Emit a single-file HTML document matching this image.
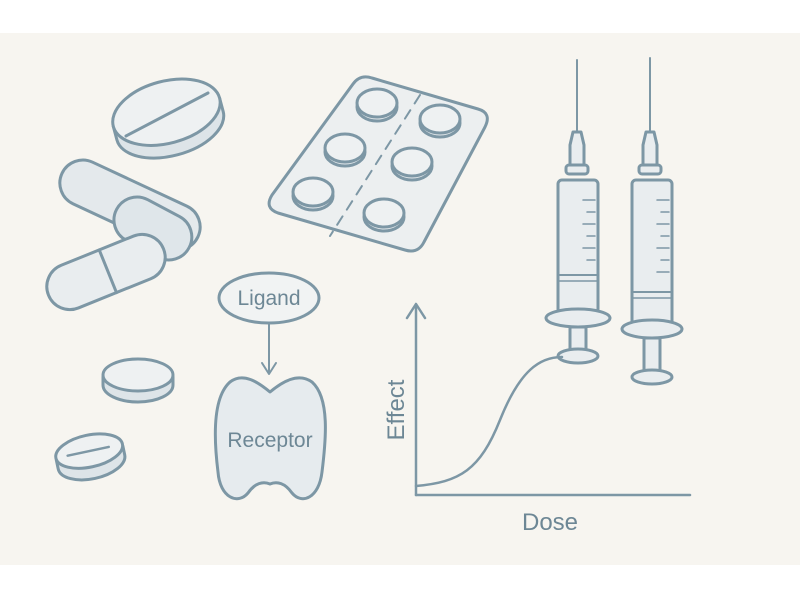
<!DOCTYPE html>
<html><head><meta charset="utf-8"><style>
html,body{margin:0;padding:0;background:#fff;}
svg{display:block}
</style></head><body>
<svg width="800" height="600" viewBox="0 0 800 600" xmlns="http://www.w3.org/2000/svg" font-family="Liberation Sans, sans-serif">
<rect x="0" y="0" width="800" height="600" fill="#ffffff"/>
<rect x="0" y="33" width="800" height="532" fill="#f7f5f0"/>
<g stroke="#7d97a5" stroke-width="3" fill="#e9edef" stroke-linecap="round" stroke-linejoin="round">
<!-- big tablet -->
<g transform="rotate(-15 168 118)">
<path d="M113 112 L113 126 A55 30 0 0 0 223 126 L223 112" fill="#dde4e8"/>
<ellipse cx="168" cy="112" rx="55" ry="31" fill="#eef1f2"/>
</g>
<line x1="126" y1="136" x2="208" y2="93"/>
<!-- capsules -->
<g transform="rotate(25 130 205)"><rect x="55" y="182" width="150" height="46" rx="23" fill="#e4e9ec"/></g>
<g transform="rotate(28 152 228)"><rect x="112" y="205" width="82" height="46" rx="23" fill="#dfe6ea"/></g>
<g transform="rotate(-22 106 272)"><rect x="44" y="249" width="124" height="46" rx="23"/><line x1="108" y1="249" x2="108" y2="295"/></g>
<!-- blister -->
<path d="M372 78 Q360 74 353 84 L272 195 Q264 208 278 213 L405 250 Q418 254 424 242 L485 127 Q492 113 478 109 Z" fill="#eceff0"/>
<line x1="420" y1="95" x2="330" y2="236" stroke-dasharray="10 8" stroke-width="2"/>
<g fill="#e2e8eb">
<ellipse cx="377" cy="107" rx="20" ry="14"/><ellipse cx="440" cy="123" rx="20" ry="14"/>
<ellipse cx="345" cy="152" rx="20" ry="14"/><ellipse cx="412" cy="166" rx="20" ry="14"/>
<ellipse cx="313" cy="196" rx="20" ry="14"/><ellipse cx="384" cy="217" rx="20" ry="14"/>
</g>
<g fill="#eef1f2">
<ellipse cx="377" cy="103" rx="20" ry="14"/><ellipse cx="440" cy="119" rx="20" ry="14"/>
<ellipse cx="345" cy="148" rx="20" ry="14"/><ellipse cx="412" cy="162" rx="20" ry="14"/>
<ellipse cx="313" cy="192" rx="20" ry="14"/><ellipse cx="384" cy="213" rx="20" ry="14"/>
</g>
<!-- small tablets -->
<path d="M103 377 L103 385 A35 17 0 0 0 173 385 L173 377" fill="#dde4e8"/>
<ellipse cx="138" cy="375" rx="35" ry="16" fill="#eef1f2"/>
<g transform="rotate(-12 90 455)">
<path d="M56 453 L56 462 A34 17 0 0 0 124 462 L124 453" fill="#dde4e8"/>
<ellipse cx="90" cy="451" rx="34" ry="16" fill="#eef1f2"/>
<line x1="68" y1="451" x2="110" y2="451" stroke-width="2.5"/>
</g>
<!-- syringes -->
<g>
<line x1="577" y1="60" x2="577" y2="132" stroke-width="2"/>
<path d="M573 132 L581 132 L584 145 L584 165 L570 165 L570 145 Z"/>
<rect x="566" y="165" width="22" height="9" rx="3"/>
<rect x="558" y="180" width="40" height="133" rx="4"/>
<line x1="558" y1="275" x2="598" y2="275" stroke-width="2"/>
<line x1="558" y1="281" x2="598" y2="281" stroke-width="1.5"/>
<ellipse cx="578" cy="318" rx="32" ry="9"/>
<rect x="570" y="327" width="16" height="26"/>
<ellipse cx="578" cy="356" rx="20" ry="7"/>
<g stroke-width="1.5"><line x1="583" y1="200" x2="595" y2="200"/><line x1="587" y1="212" x2="595" y2="212"/><line x1="583" y1="224" x2="595" y2="224"/><line x1="587" y1="236" x2="595" y2="236"/><line x1="583" y1="248" x2="595" y2="248"/><line x1="587" y1="260" x2="595" y2="260"/></g>
</g>
<g>
<line x1="650" y1="58" x2="650" y2="132" stroke-width="2"/>
<path d="M646 132 L654 132 L657 145 L657 165 L643 165 L643 145 Z"/>
<rect x="639" y="165" width="22" height="9" rx="3"/>
<rect x="632" y="180" width="40" height="145" rx="4"/>
<line x1="632" y1="292" x2="672" y2="292" stroke-width="2"/>
<line x1="632" y1="298" x2="672" y2="298" stroke-width="1.5"/>
<ellipse cx="652" cy="329" rx="30" ry="9"/>
<rect x="644" y="338" width="16" height="36"/>
<ellipse cx="652" cy="377" rx="20" ry="7"/>
<g stroke-width="1.5"><line x1="657" y1="200" x2="669" y2="200"/><line x1="661" y1="212" x2="669" y2="212"/><line x1="657" y1="224" x2="669" y2="224"/><line x1="661" y1="236" x2="669" y2="236"/><line x1="657" y1="248" x2="669" y2="248"/><line x1="661" y1="260" x2="669" y2="260"/><line x1="657" y1="272" x2="669" y2="272"/></g>
</g>
<!-- ligand / receptor -->
<ellipse cx="269" cy="298" rx="50" ry="25" fill="#f1f3f3"/>
<line x1="269" y1="323" x2="269" y2="373" stroke-width="2"/>
<path d="M262 363 L269 374 L276 363" fill="none" stroke-width="2"/>
<path d="M230 382 C243 372 258 382 270 392 C282 382 298 372 312 382 C330 398 326 440 322 472 C319 498 302 505 292 493 C285 483 277 481 270 484 C263 481 255 483 248 493 C238 505 220 498 218 472 C214 440 212 398 230 382 Z" fill="#e6ebee"/>
<!-- graph -->
<g fill="none" stroke-width="2.5">
<line x1="416" y1="495" x2="416" y2="305"/>
<path d="M407 318 L416 304 L425 318"/>
<line x1="416" y1="495" x2="690" y2="495"/>
<path d="M416 486 C460 482 480 470 500 420 C520 370 540 357 562 357"/>
</g>
</g>
<g fill="#6d8795" font-size="21">
<text x="269" y="305" text-anchor="middle">Ligand</text>
<text x="270" y="447" text-anchor="middle">Receptor</text>
<text x="550" y="530" text-anchor="middle" font-size="24">Dose</text>
<text transform="translate(404 410) rotate(-90)" text-anchor="middle" font-size="24">Effect</text>
</g>
</svg>
</body></html>
